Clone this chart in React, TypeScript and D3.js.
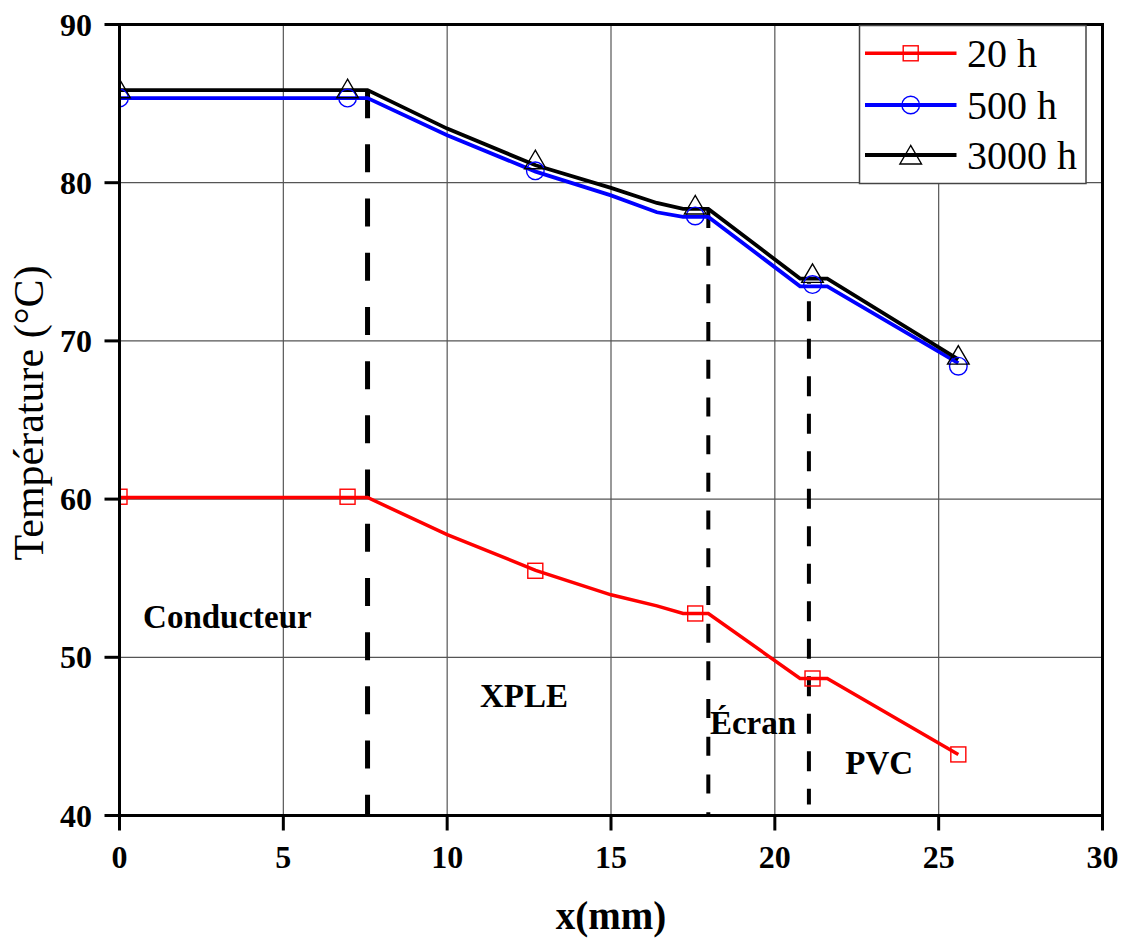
import React from "react";
import * as d3 from "d3";

// ---- data ----
const lineX = [0, 7.57, 10, 12.7, 15, 16.4, 17.2, 17.97, 20.77, 21.6, 25.6];
const line20h = [60.1, 60.1, 57.75, 55.5, 53.95, 53.25, 52.77, 52.77, 48.66, 48.66, 43.86];
const line500h = [85.35, 85.35, 83.0, 80.7, 79.2, 78.13, 77.84, 77.84, 73.45, 73.45, 68.6];
const line3000h = [85.85, 85.85, 83.42, 81.1, 79.67, 78.72, 78.34, 78.34, 73.94, 73.94, 68.83];

const markerX = [0, 6.96, 12.69, 17.57, 21.15, 25.6];
const marker20h = [60.15, 60.15, 55.47, 52.77, 48.66, 43.86];
const marker500h = [85.35, 85.35, 80.75, 77.9, 73.56, 68.4];
const marker3000h = [85.94, 85.94, 81.45, 78.59, 74.27, 69.1];

const seriesNames = ["20 h", "500 h", "3000 h"];
const seriesColors = ["#ff0000", "#0000ff", "#000000"];

const xTicks = [0, 5, 10, 15, 20, 25, 30];
const yTicks = [40, 50, 60, 70, 80, 90];

// vertical boundary lines: x position, top value, bottom value
const boundaryX = [7.57, 17.97, 21.04];
const boundaryTop = [85.85, 78.34, 73.7];
const boundaryBottom = [40, 40, 40.7];

const regionLabels = ["Conducteur", "XPLE", "Écran", "PVC"];
const regionLabelX = [0.72, 11.0, 18.02, 22.15];
const regionLabelY = [51.85, 46.85, 45.15, 42.6];

const FONT = '"Liberation Serif", "Times New Roman", Times, serif';

export default function App() {
  const W = 1125;
  const H = 939;
  const x = d3.scaleLinear().domain([0, 30]).range([119.5, 1102.5]);
  const y = d3.scaleLinear().domain([40, 90]).range([815.5, 24.5]);
  const [x0, x1] = x.range();
  const [yb, yt] = y.range();

  const lineGen = d3
    .line<number>()
    .x((_, i) => x(lineX[i]))
    .y((d) => y(d));

  const lineSeries = [line20h, line500h, line3000h];
  const markerSeries = [marker20h, marker500h, marker3000h];

  const dashStyles = [
    { w: 5, dash: "28 26.2", off: 0 },
    { w: 4, dash: "19 18.7", off: 0 },
    { w: 4, dash: "20 17.5", off: 18.5 },
  ];

  const drawMarker = (k: number, cx: number, cy: number, key: string) => {
    const c = seriesColors[k];
    if (k === 0) {
      return (
        <rect key={key} x={cx - 7.5} y={cy - 7.5} width={15} height={15} fill="none" stroke={c} strokeWidth={1.4} />
      );
    }
    if (k === 1) {
      return <circle key={key} cx={cx} cy={cy} r={8.8} fill="none" stroke={c} strokeWidth={1.4} />;
    }
    const pts = [
      [cx, cy - 9.5],
      [cx - 10.8, cy + 9],
      [cx + 10.8, cy + 9],
    ]
      .map((p) => p.join(","))
      .join(" ");
    return <polygon key={key} points={pts} fill="none" stroke={c} strokeWidth={1.4} />;
  };

  // legend geometry
  const lgX = 859.5;
  const lgY = 25.5;
  const lgW = 226.5;
  const lgH = 158;
  const lgRows = [53.3, 105, 155];

  return (
    <svg
      width={W}
      height={H}
      style={{ position: "absolute", left: 0, top: 0, background: "#fff" }}
      fontFamily={FONT}
    >
      <defs>
        <clipPath id="plotClip">
          <rect x={x0} y={yt} width={x1 - x0} height={yb - yt} />
        </clipPath>
      </defs>
      <rect x={0} y={0} width={W} height={H} fill="#fff" />

      {/* grid */}
      <g stroke="#555" strokeWidth={1.2}>
        {xTicks.slice(1, -1).map((t) => (
          <line key={"gx" + t} x1={x(t)} x2={x(t)} y1={yt} y2={yb} />
        ))}
        {yTicks.slice(1, -1).map((t) => (
          <line key={"gy" + t} x1={x0} x2={x1} y1={y(t)} y2={y(t)} />
        ))}
      </g>

      {/* boundary dashed lines */}
      <g stroke="#000">
        {boundaryX.map((bx, i) => (
          <line
            key={"b" + i}
            x1={x(bx)}
            x2={x(bx)}
            y1={y(boundaryTop[i])}
            y2={y(boundaryBottom[i])}
            strokeWidth={dashStyles[i].w}
            strokeDasharray={dashStyles[i].dash}
            strokeDashoffset={dashStyles[i].off}
          />
        ))}
      </g>

      {/* region labels */}
      <g fontWeight="bold" fontSize={33} fill="#000">
        {regionLabels.map((t, i) => (
          <text key={t} x={x(regionLabelX[i])} y={y(regionLabelY[i])}>
            {t}
          </text>
        ))}
      </g>

      {/* series */}
      <g clipPath="url(#plotClip)">
        {lineSeries.map((s, k) => (
          <path
            key={"l" + k}
            d={lineGen(s) || ""}
            fill="none"
            stroke={seriesColors[k]}
            strokeWidth={k === 0 ? 3.5 : 3.8}
            strokeLinejoin="miter"
          />
        ))}
        {markerSeries.map((s, k) =>
          s.map((v, i) => drawMarker(k, x(markerX[i]), y(v), `m${k}-${i}`))
        )}
      </g>

      {/* frame */}
      <rect x={x0} y={yt} width={x1 - x0} height={yb - yt} fill="none" stroke="#000" strokeWidth={3} />

      {/* ticks */}
      <g stroke="#000" strokeWidth={3}>
        {xTicks.map((t) => (
          <line key={"tx" + t} x1={x(t)} x2={x(t)} y1={yb} y2={yb + 15} />
        ))}
        {yTicks.map((t) => (
          <line key={"ty" + t} x1={x0 - 15} x2={x0} y1={y(t)} y2={y(t)} />
        ))}
      </g>

      {/* tick labels */}
      <g fontWeight="bold" fontSize={32} fill="#000">
        {xTicks.map((t) => (
          <text key={"lx" + t} x={x(t)} y={868} textAnchor="middle">
            {t}
          </text>
        ))}
        {yTicks.map((t) => (
          <text key={"ly" + t} x={92} y={y(t) + 11} textAnchor="end">
            {t}
          </text>
        ))}
      </g>

      {/* axis titles */}
      <text x={611} y={929} textAnchor="middle" fontWeight="bold" fontSize={39} fill="#000">
        x(mm)
      </text>
      <text
        transform={`translate(43, 413) rotate(-90)`}
        textAnchor="middle"
        fontSize={42}
        fill="#000"
      >
        Température (°C)
      </text>

      {/* legend */}
      <rect x={lgX} y={lgY} width={lgW} height={lgH} fill="#fff" stroke="#444" strokeWidth={1.5} />
      {seriesNames.map((n, k) => (
        <g key={"lg" + k}>
          <line
            x1={865}
            x2={956.5}
            y1={lgRows[k]}
            y2={lgRows[k]}
            stroke={seriesColors[k]}
            strokeWidth={k === 0 ? 3.5 : 3.8}
          />
          {drawMarker(k, 910.7, lgRows[k], "lm" + k)}
          <text x={967} y={lgRows[k] + 14} fontSize={40} fill="#000">
            {n}
          </text>
        </g>
      ))}
    </svg>
  );
}
